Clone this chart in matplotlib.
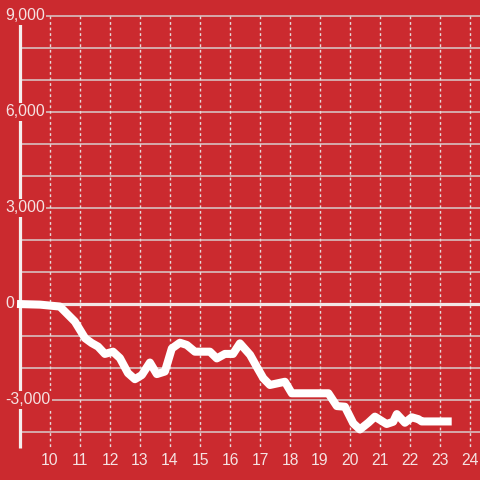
import matplotlib.pyplot as plt

# hour of day vs cumulative value
hours = [8.9, 9.67, 10.33, 10.83, 11.17, 11.39, 11.6, 11.83, 12.1, 12.33, 12.6,
         12.83, 13.06, 13.33, 13.56, 13.83, 14.06, 14.33, 14.56, 14.83, 15.33,
         15.56, 15.83, 16.1, 16.33, 16.67, 16.89, 17.11, 17.33, 17.83, 18.06,
         19.28, 19.56, 19.83, 20.11, 20.33, 20.61, 20.83, 21.22, 21.44, 21.56,
         21.83, 22.06, 22.28, 22.39, 23.39]
values = [0, -20, -80, -550, -1070, -1220, -1330, -1560, -1490, -1690, -2160,
          -2350, -2220, -1830, -2190, -2110, -1390, -1210, -1280, -1490, -1490,
          -1700, -1560, -1560, -1230, -1590, -1960, -2320, -2530, -2430, -2790,
          -2790, -3190, -3210, -3730, -3920, -3710, -3520, -3750, -3680, -3440,
          -3710, -3540, -3600, -3670, -3670]

x_ticks = list(range(10, 25))
y_grid = list(range(-4000, 10000, 1000))
y_labels = [9000, 6000, 3000, 0, -3000]

BG = '#cb2a2f'
FG = '#f5e2e2'

fig = plt.figure(figsize=(4.8, 4.8), dpi=100, facecolor=BG)
ax = fig.add_axes([0, 0, 1, 1], facecolor=BG)
ax.set_xlim(8.333, 24.333)
ax.set_ylim(-5500, 9500)
ax.axis('off')

# horizontal grid
for v in y_grid:
    if v == 0:
        continue
    ax.plot([9.0, 24.4], [v, v], color='#d9cccc', lw=1.1, zorder=1)
# vertical dashed grid
for h in x_ticks:
    ax.plot([h, h], [9000, -4500], color='#e6dada', lw=1, ls=(0, (2, 2)), zorder=1)

# zero line
ax.plot([8.9, 24.4], [0, 0], color='#f2e6e6', lw=2.3, zorder=2, solid_capstyle='butt')
# axis line
ax.plot([9.0, 9.0], [8750, -4500], color='#f5eeee', lw=2.3, zorder=2, solid_capstyle='butt')

# data
ax.plot(hours, values, color='white', lw=5.8, zorder=4,
        solid_joinstyle='round', solid_capstyle='butt')

for v in y_labels:
    ax.text(8.5, v, f'{v:,}', ha='left', va='center', fontsize=11.3,
            family='Liberation Sans', color=FG, zorder=3,
            bbox=dict(facecolor=BG, edgecolor='none', pad=1.0))

for h in x_ticks:
    ax.text(h, -4906, str(h), ha='center', va='center', fontsize=11.3,
            family='Liberation Sans', color=FG, zorder=3)

fig.savefig('out.png', dpi=100, facecolor=BG)
